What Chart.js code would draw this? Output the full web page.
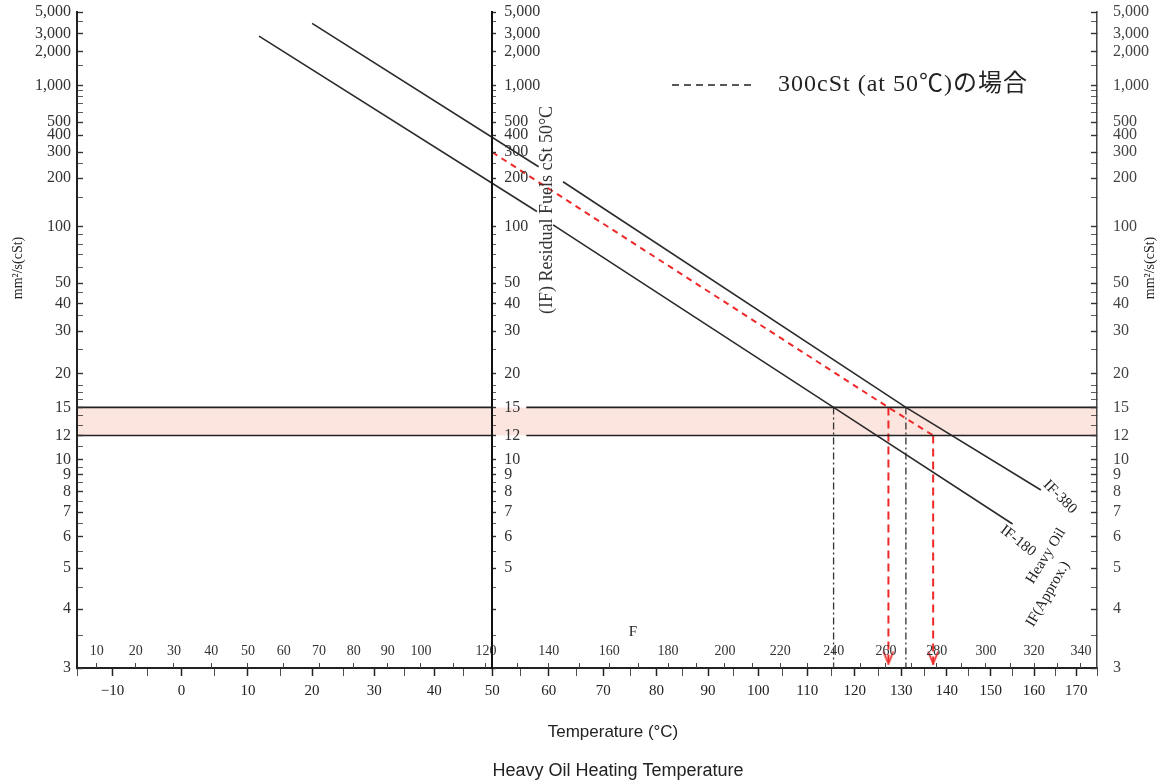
<!DOCTYPE html>
<html>
<head>
<meta charset="utf-8">
<title>Heavy Oil Heating Temperature</title>
<script src="https://cdn.jsdelivr.net/npm/chart.js@4.4.1/dist/chart.umd.min.js"></script>
<style>
  html, body { margin: 0; padding: 0; background: #fff; }
  #wrap { position: relative; width: 1160px; height: 784px; }
</style>
</head>
<body>
<div id="wrap"><canvas id="viscChart"></canvas></div>
<script>
// ---- values ----
const tempRange = [-15, 175];          // °C, plot edges
const viscRange = [3, 5000];           // cSt, plot edges

const celsiusLabels = [-10, 0, 10, 20, 30, 40, 50, 60, 70, 80, 90, 100, 110, 120, 130, 140, 150, 160, 170];
const celsiusMinor = [-15, -5, 5, 15, 25, 35, 45, 55, 65, 75, 85, 95, 105, 115, 125, 135, 145, 155, 165, 175];
const fahrenheitLabels = [10, 20, 30, 40, 50, 60, 70, 80, 90, 100, 120, 140, 160, 180, 200, 220, 240, 260, 280, 300, 320, 340];
const fahrenheitMinor = [110, 130, 150, 170, 190, 210, 230, 250, 270, 290, 310, 330];
const viscLabels = [5000, 3000, 2000, 1000, 500, 400, 300, 200, 100, 50, 40, 30, 20, 15, 12, 10, 9, 8, 7, 6, 5, 4, 3];
const viscMinor = [4000, 1500, 900, 800, 700, 600, 250, 150, 90, 80, 70, 60, 45, 35, 25, 18, 17, 16, 14, 13, 11, 9.5, 8.5, 7.5, 6.5, 5.5, 4.5, 3.5];
const midAxisHidden = [4, 3];          // the inner axis stops labelling at 5

// IF-380 and IF-180 lines (null = break where the rotated label sits)
const if380Temp = [20, 58.2, null, 62.6, 131, 161.6];
const if380Visc = [3810, 238, null, 189, 15, 8.1];
const if180Temp = [11.7, 57.9, null, 60.8, 115.5, 155];
const if180Visc = [2840, 123, null, 102.5, 15, 6.5];

// 300 cSt (at 50°C) case
const case300Temp = [50, 127.2, 137];
const case300Visc = [300, 15, 12];

// heating band 12-15 cSt
const bandVisc = [12, 15];
const bandLineTemp = [-15, 50, null, 56, 175];

// read-down lines to the temperature axis
const readBlackTemp = [115.5, 131];
const readBlackVisc = [15, 15];
const readRedTemp = [127.2, 137];
const readRedVisc = [15, 12];
const arrowVisc = 3.15;

// ---- scales: log(T in K) for temperature, log log (v + 0.7) for viscosity ----
class LogKelvinScale extends Chart.Scale {
  static id = 'logKelvin';
  static defaults = {};
  kelvin(v) { return (this.options.fahrenheit ? (v - 32) / 1.8 : v) + 273.15; }
  determineDataLimits() { this.min = this.options.min; this.max = this.options.max; }
  buildTicks() { return []; }
  getLabelForValue(v) { return String(v); }
  configure() {
    super.configure();
    this._lo = Math.log10(this.kelvin(this.min));
    this._span = Math.log10(this.kelvin(this.max)) - this._lo;
  }
  getPixelForValue(v) {
    return this.getPixelForDecimal((Math.log10(this.kelvin(v)) - this._lo) / this._span);
  }
  getValueForPixel(p) {
    const c = Math.pow(10, this._lo + this.getDecimalForPixel(p) * this._span) - 273.15;
    return this.options.fahrenheit ? c * 1.8 + 32 : c;
  }
}

class AstmScale extends Chart.Scale {
  static id = 'astm';
  static defaults = {};
  tf(v) { return Math.log10(Math.log10(v + 0.7)); }
  determineDataLimits() { this.min = this.options.min; this.max = this.options.max; }
  buildTicks() { return []; }
  getLabelForValue(v) { return String(v); }
  configure() {
    super.configure();
    this._lo = this.tf(this.min);
    this._span = this.tf(this.max) - this._lo;
  }
  getPixelForValue(v) { return this.getPixelForDecimal((this.tf(v) - this._lo) / this._span); }
  getValueForPixel(p) {
    return Math.pow(10, Math.pow(10, this._lo + this.getDecimalForPixel(p) * this._span)) - 0.7;
  }
  // the axis standing inside the plot has its labels on the right-hand side
  _computeLabelItems(area) {
    const items = super._computeLabelItems(area);
    const shift = this.options.labelShift;
    if (shift) {
      items.forEach(it => {
        it.options.textAlign = 'left';
        it.options.translation[0] += shift;
      });
    }
    return items;
  }
}
Chart.register(LogKelvinScale, AstmScale);

const serif = '"Liberation Serif", "DejaVu Serif", serif';
const sans = '"Liberation Sans", Arial, sans-serif';
const zip = (xs, ys) => xs.map((x, i) => ({ x: x, y: ys[i] }));
const tickSet = (labels, minor) => s => {
  s.ticks = labels.concat(minor).sort((a, b) => a - b).map(v => ({ value: v }));
};
const viscText = v => viscLabels.includes(v) ? (v >= 1000 ? v.toLocaleString('en-US') : String(v)) : '';
const viscTickWidth = c => viscLabels.includes(c.tick && c.tick.value) ? 1.4 : 0.8;
// keep the label padding from pushing the plot area down
const fixWidth = w => s => { s.width = w; s.paddingTop = 0; s.paddingBottom = 0; };

function vArrow(color) {
  const c = document.createElement('canvas');
  c.width = 14; c.height = 14;
  const g = c.getContext('2d');
  g.strokeStyle = color; g.lineWidth = 1.8;
  g.beginPath(); g.moveTo(2, 1); g.lineTo(7, 13); g.lineTo(12, 1); g.stroke();
  return c;
}

// free text on the drawing (labels, units, caption, key)
const notes = [
  { text: '(IF) Residual Fuels cSt 50°C', x: 547, y: 210, rot: -90, font: '18px ' + serif, color: '#333' },
  { text: 'IF-380', x: 1060, y: 497, rot: 45, font: '15px ' + serif },
  { text: 'IF-180', x: 1018, y: 541, rot: 38, font: '15px ' + serif },
  { text: 'Heavy Oil', x: 1046, y: 556, rot: -58, font: '15px ' + serif },
  { text: 'IF(Approx.)', x: 1048, y: 594, rot: -60, font: '15px ' + serif },
  { text: 'F', x: 633, y: 632, font: '15px ' + serif },
  { text: 'mm²/s(cSt)', x: 18, y: 268, rot: -90, font: '14px ' + serif },
  { text: 'mm²/s(cSt)', x: 1150, y: 268, rot: -90, font: '14px ' + serif },
  { text: 'Temperature (°C)', x: 613, y: 732, font: '17px ' + sans },
  { text: 'Heavy Oil Heating Temperature', x: 618, y: 771, font: '18px ' + sans },
  { text: '300cSt (at 50℃)の場合', x: 778, y: 85, align: 'left', spacing: '1px',
    font: '24px "Liberation Serif", "Noto Sans CJK JP", serif' }
];

const textNotes = {
  id: 'textNotes',
  afterDraw(chart) {
    const ctx = chart.ctx;
    ctx.save();
    ctx.strokeStyle = '#222';
    ctx.lineWidth = 1.5;
    ctx.setLineDash([7, 5]);
    ctx.beginPath(); ctx.moveTo(672, 85); ctx.lineTo(752, 85); ctx.stroke();
    ctx.restore();
    notes.forEach(n => {
      ctx.save();
      ctx.translate(n.x, n.y);
      ctx.rotate((n.rot || 0) * Math.PI / 180);
      ctx.font = n.font;
      if (n.spacing) ctx.letterSpacing = n.spacing;
      ctx.fillStyle = n.color || '#222';
      ctx.textAlign = n.align || 'center';
      ctx.textBaseline = 'middle';
      ctx.fillText(n.text, 0, 0);
      ctx.restore();
    });
  }
};

const lineStyle = { pointRadius: 0, fill: false, spanGaps: false, xAxisID: 'x', yAxisID: 'y', order: 1 };
const red = 'rgb(238, 40, 40)';

const datasets = [
  // band fill
  { ...lineStyle, data: zip(tempRange, [bandVisc[1], bandVisc[1]]), borderWidth: 0, order: 10 },
  { ...lineStyle, data: zip(tempRange, [bandVisc[0], bandVisc[0]]), borderWidth: 0, fill: '-1', backgroundColor: '#fde5df', order: 10 },
  // band edges
  { ...lineStyle, data: zip(bandLineTemp, bandLineTemp.map(t => t === null ? null : bandVisc[1])), borderColor: '#222', borderWidth: 1.6 },
  { ...lineStyle, data: zip(bandLineTemp, bandLineTemp.map(t => t === null ? null : bandVisc[0])), borderColor: '#222', borderWidth: 1.6 },
  // fuel lines
  { ...lineStyle, label: 'IF-380', data: zip(if380Temp, if380Visc), borderColor: '#2b2b2b', borderWidth: 1.6 },
  { ...lineStyle, label: 'IF-180', data: zip(if180Temp, if180Visc), borderColor: '#2b2b2b', borderWidth: 1.6 },
  // black read-downs
  ...readBlackTemp.map((t, i) => ({ ...lineStyle, data: zip([t, t], [readBlackVisc[i], viscRange[0]]),
    borderColor: '#333', borderWidth: 1.3, borderDash: [7, 3, 2, 3] })),
  // 300 cSt case
  { ...lineStyle, label: '300cSt (at 50℃)', data: zip(case300Temp, case300Visc), borderColor: red, borderWidth: 2, borderDash: [6, 5] },
  ...readRedTemp.map((t, i) => ({ ...lineStyle, data: zip([t, t], [readRedVisc[i], viscRange[0]]),
    borderColor: red, borderWidth: 2, borderDash: [8, 5] })),
  { ...lineStyle, data: zip(readRedTemp, [arrowVisc, arrowVisc]), showLine: false,
    pointRadius: 7, pointStyle: vArrow(red) }
];

const yGrid = { drawOnChartArea: false, tickLength: -6, color: '#333', tickWidth: viscTickWidth, z: 1 };
const yTicks = { autoSkip: false, callback: viscText, font: { family: serif, size: 16 }, color: '#333', z: 1 };

new Chart(document.getElementById('viscChart'), {
  type: 'line',
  data: { datasets: datasets },
  options: {
    responsive: true,
    maintainAspectRatio: false,
    animation: false,
    events: [],
    devicePixelRatio: 1,
    layout: { padding: { top: 12, left: 0, right: 0, bottom: 0 } },
    elements: { line: { tension: 0 } },
    plugins: { legend: { display: false }, tooltip: { enabled: false } },
    scales: {
      x: {
        type: 'logKelvin', axis: 'x', position: 'bottom',
        min: tempRange[0], max: tempRange[1],
        afterBuildTicks: tickSet(celsiusLabels, celsiusMinor),
        afterFit: s => { s.height = 116; },
        grid: { drawOnChartArea: false, tickLength: 8, color: '#222',
          tickWidth: c => celsiusLabels.includes(c.tick && c.tick.value) ? 1.5 : 0.8, z: 1 },
        border: { color: '#222', width: 2, z: 1 },
        ticks: { autoSkip: false, maxRotation: 0, minRotation: 0, padding: 6, color: '#222', z: 1,
          font: { family: serif, size: 15 },
          callback: v => celsiusLabels.includes(v) ? (v < 0 ? '−' + Math.abs(v) : String(v)) : '' }
      },
      xF: {
        type: 'logKelvin', axis: 'x', fahrenheit: true,
        position: { y: viscRange[0] },
        min: tempRange[0] * 1.8 + 32, max: tempRange[1] * 1.8 + 32,
        afterBuildTicks: tickSet(fahrenheitLabels, fahrenheitMinor),
        grid: { display: true, drawOnChartArea: false, drawTicks: true, tickLength: -5, color: '#444', lineWidth: 1, z: 1 },
        border: { display: false },
        ticks: { autoSkip: false, maxRotation: 0, minRotation: 0, padding: -20, color: '#333', z: 1,
          font: { family: serif, size: 14 },
          callback: v => fahrenheitLabels.includes(v) ? String(v) : '' }
      },
      y: {
        type: 'astm', axis: 'y', position: 'left',
        min: viscRange[0], max: viscRange[1],
        afterBuildTicks: tickSet(viscLabels, viscMinor),
        afterFit: fixWidth(77),
        grid: yGrid,
        border: { color: '#222', width: 2, z: 1 },
        ticks: { ...yTicks, padding: 12 }
      },
      yMid: {
        type: 'astm', axis: 'y', position: { x: 50 }, labelShift: 12,
        min: viscRange[0], max: viscRange[1],
        afterBuildTicks: tickSet(viscLabels, viscMinor),
        afterFit: s => { s.paddingTop = 0; s.paddingBottom = 0; },
        grid: { ...yGrid, tickLength: -5 },
        border: { color: '#111', width: 2, z: 1 },
        ticks: { ...yTicks, callback: v => midAxisHidden.includes(v) ? '' : viscText(v) }
      },
      yRight: {
        type: 'astm', axis: 'y', position: 'right',
        min: viscRange[0], max: viscRange[1],
        afterBuildTicks: tickSet(viscLabels, viscMinor),
        afterFit: fixWidth(63),
        grid: yGrid,
        border: { color: '#444', width: 1.5, z: 1 },
        ticks: { ...yTicks, padding: 22, color: '#444' }
      }
    }
  },
  plugins: [textNotes]
});
</script>
</body>
</html>
